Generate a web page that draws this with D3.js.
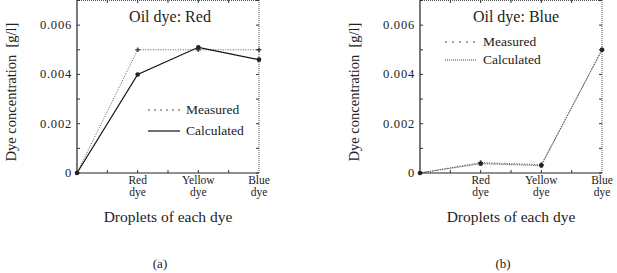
<!DOCTYPE html>
<html>
<head>
<meta charset="utf-8">
<script src="https://cdn.jsdelivr.net/npm/d3@7"></script>
<style>
  body { margin: 0; background: #fff; }
  text { font-family: "Liberation Serif", "DejaVu Serif", serif; fill: #222; white-space: pre; }
</style>
</head>
<body>
<div id="chart"></div>
<script>
// x positions: origin + the three dye droplets
var xValues = [0, 1, 2, 3];
var xLabels = [null, ["Red", "dye"], ["Yellow", "dye"], ["Blue", "dye"]];
var yTicks = [0, 0.002, 0.004, 0.006];

// panel (a): oil dye red
var redMeasured = [0, 0.0050, 0.0050, 0.0050];
var redCalculated = [0, 0.0040, 0.0051, 0.0046];

// panel (b): oil dye blue
var blueMeasured = [0, 0.00042, 0.00034, 0.0050];
var blueCalculated = [0, 0.00038, 0.00030, 0.0050];

var width = 617, height = 273;

var svg = d3.select('#chart').append('svg')
  .attr('width', width)
  .attr('height', height);

function drawPanel(opt) {
  var x = d3.scaleLinear().domain([0, 3]).range([opt.left, opt.left + 182]);
  var y = d3.scaleLinear().domain([0, 0.007]).range([173, 0.5]);
  var g = svg.append('g');

  // frame: left/bottom solid, top/right dotted
  g.append('line').attr('x1', x(0)).attr('x2', x(0)).attr('y1', y(0)).attr('y2', 0)
    .attr('stroke', '#222').attr('stroke-width', 1.2);
  g.append('line').attr('x1', x(0)).attr('x2', x(3)).attr('y1', y(0)).attr('y2', y(0))
    .attr('stroke', '#222').attr('stroke-width', 1.2);
  g.append('line').attr('x1', x(3)).attr('x2', x(3)).attr('y1', y(0)).attr('y2', 0)
    .attr('stroke', '#555').attr('stroke-dasharray', '1,1');
  g.append('line').attr('x1', x(0)).attr('x2', x(3)).attr('y1', 0.5).attr('y2', 0.5)
    .attr('stroke', '#555').attr('stroke-dasharray', '1,1');

  // y ticks (inside), minor every 0.001
  d3.range(0, 0.0071, 0.001).forEach(function(v) {
    g.append('line').attr('x1', x(0)).attr('x2', x(0) + 3).attr('y1', y(v)).attr('y2', y(v))
      .attr('stroke', '#333');
    g.append('line').attr('x1', x(3)).attr('x2', x(3) - 3).attr('y1', y(v)).attr('y2', y(v))
      .attr('stroke', '#333');
  });
  yTicks.forEach(function(v) {
    g.append('text').attr('x', x(0) - 5).attr('y', y(v) + 4)
      .attr('text-anchor', 'end').attr('font-size', 12.5)
      .attr('letter-spacing', 0.8)
      .text(v === 0 ? '0' : d3.format('.3f')(v));
  });

  // x ticks every half step, top and bottom
  d3.range(0.5, 3, 0.5).forEach(function(v) {
    g.append('line').attr('x1', x(v)).attr('x2', x(v)).attr('y1', y(0)).attr('y2', y(0) - 3)
      .attr('stroke', '#333');
    g.append('line').attr('x1', x(v)).attr('x2', x(v)).attr('y1', 0).attr('y2', 3)
      .attr('stroke', '#333');
  });
  xValues.forEach(function(v, i) {
    if (!xLabels[i]) return;
    xLabels[i].forEach(function(s, k) {
      g.append('text').attr('x', x(v)).attr('y', 183.5 + k * 12.5)
        .attr('text-anchor', 'middle').attr('font-size', 11.5).text(s);
    });
  });

  // axis titles
  g.append('text').attr('x', x(1.5)).attr('y', 222)
    .attr('text-anchor', 'middle').attr('font-size', 15.5).text('Droplets of each dye');
  g.append('text')
    .attr('transform', 'translate(' + (opt.left - 61) + ',92) rotate(-90)')
    .attr('text-anchor', 'middle').attr('font-size', 14.5).text('Dye concentration  [g/l]');
  g.append('text').attr('x', opt.caption).attr('y', 268)
    .attr('text-anchor', 'middle').attr('font-size', 13).text(opt.label);

  g.append('text').attr('x', opt.left + opt.titleX).attr('y', 22)
    .attr('text-anchor', 'middle').attr('font-size', 16).text(opt.title);

  var line = d3.line().x(function(d, i) { return x(xValues[i]); }).y(function(d) { return y(d); });

  opt.series.forEach(function(s, k) {
    g.append('path').datum(s.values).attr('d', line)
      .attr('fill', 'none').attr('stroke', s.color).attr('stroke-width', s.width)
      .attr('stroke-dasharray', s.dash);
    s.values.forEach(function(v, i) {
      if (s.marker === 'dot') {
        g.append('circle').attr('cx', x(xValues[i])).attr('cy', y(v)).attr('r', 2.3).attr('fill', '#222');
      } else if (s.marker === 'plus' && i > 0) {
        g.append('path').attr('d', d3.symbol(d3.symbolCross, 12)())
          .attr('transform', 'translate(' + x(xValues[i]) + ',' + y(v) + ')').attr('fill', '#444');
      }
    });
    // legend
    var ly = opt.legendY + k * opt.legendGap;
    var lx = opt.left + opt.legendX;
    g.append('line').attr('x1', lx).attr('x2', lx + 32).attr('y1', ly).attr('y2', ly)
      .attr('stroke', s.color).attr('stroke-width', s.width).attr('stroke-dasharray', s.legendDash);
    g.append('text').attr('x', lx + 38).attr('y', ly + 4).attr('font-size', 13.5).text(s.name);
  });
}

drawPanel({
  left: 77, title: 'Oil dye: Red', titleX: 93, caption: 160, label: '(a)',
  legendX: 71, legendY: 110, legendGap: 21,
  series: [
    {name: 'Measured', values: redMeasured, color: '#555', width: 1, dash: '1,1.5', legendDash: '2,4', marker: 'plus'},
    {name: 'Calculated', values: redCalculated, color: '#111', width: 1.2, dash: null, legendDash: null, marker: 'dot'}
  ]
});

drawPanel({
  left: 420, title: 'Oil dye: Blue', titleX: 96, caption: 503, label: '(b)',
  legendX: 25, legendY: 42, legendGap: 18,
  series: [
    {name: 'Measured', values: blueMeasured, color: '#444', width: 1, dash: '1,1.5', legendDash: '2,5', marker: 'plus'},
    {name: 'Calculated', values: blueCalculated, color: '#444', width: 1, dash: '1,1', legendDash: '1,1', marker: 'dot'}
  ]
});
</script>
</body>
</html>
